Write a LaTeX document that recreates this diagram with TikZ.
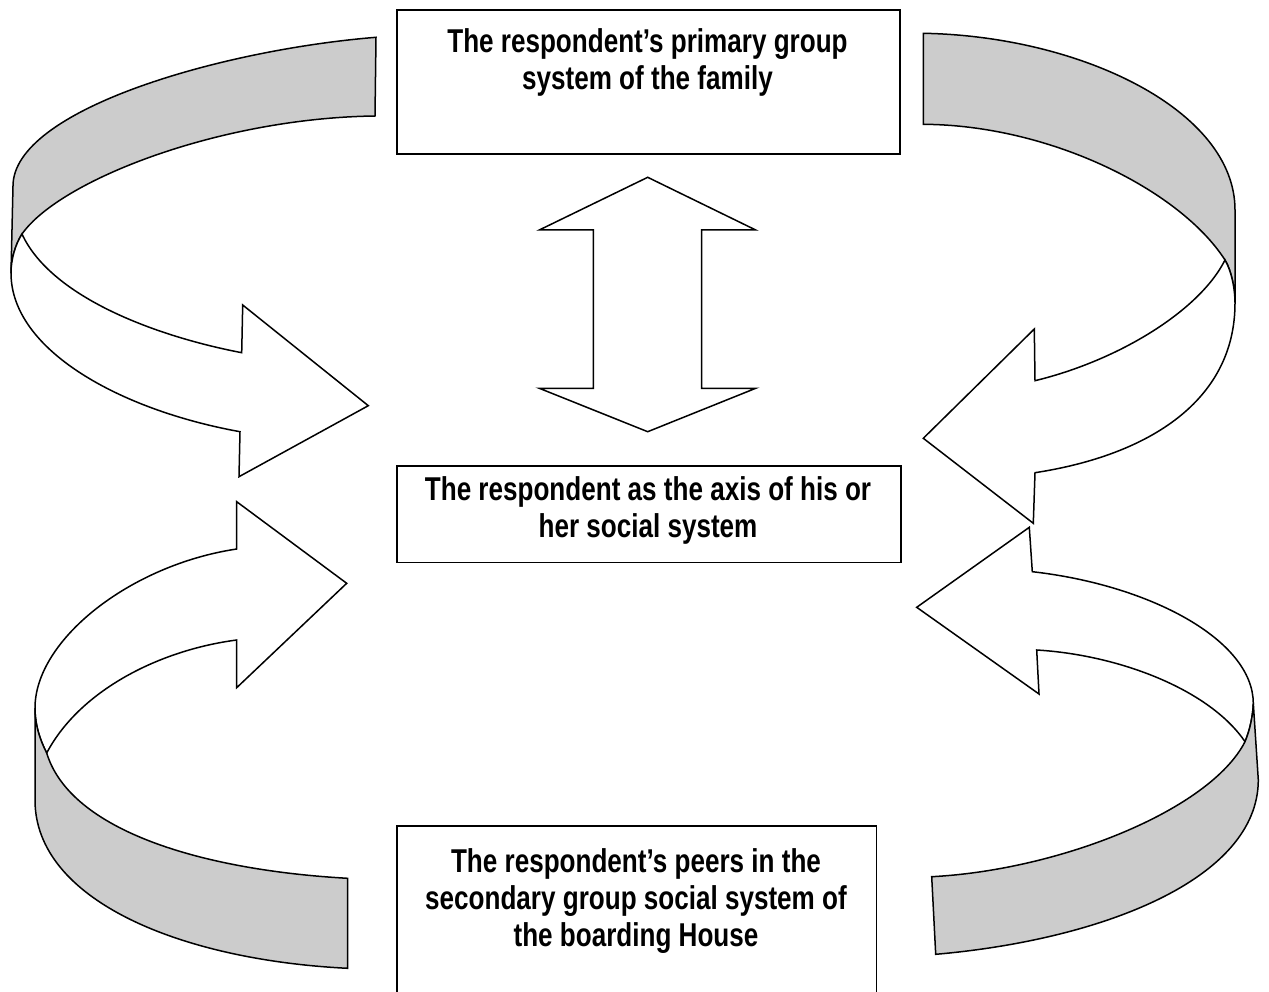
\documentclass[tikz,border=0pt]{standalone}
\usepackage{fontspec}
\setmainfont{Liberation Sans}[FakeStretch=0.79]
\definecolor{bandgray}{RGB}{204,204,204}
\begin{document}
\begin{tikzpicture}[x=1pt,y=-1pt,
  band/.style={draw=black, fill=bandgray, line width=1.5pt, line join=miter},
  face/.style={draw=black, fill=white, line width=1.5pt, line join=miter},
  sysbox/.style={draw=black, line width=1.5pt, inner sep=0pt, fill=none},
  lbl/.style={font=\bfseries\fontsize{33}{37}\selectfont, align=center, inner sep=0pt, anchor=north}]
\useasboundingbox (0,0) rectangle (1269,992);
\clip (0,0) rectangle (1269,992);

% boxes
\node[sysbox, minimum width=503.3pt, minimum height=144pt, anchor=north west] (family) at (396,9.3) {};
\node[sysbox, minimum width=504pt, minimum height=96.7pt, anchor=north west] (self) at (396,465) {};
\node[sysbox, minimum width=479.7pt, minimum height=200pt, anchor=north west] (peers) at (396,825) {};

\node[lbl] (familytext) at (647.5,28.5) {The respondent’s primary group\\system of the family};
\node[lbl] (selftext) at (648,476.7) {The respondent as the axis of his or\\her social system};
\node[lbl] (peerstext) at (636,848.5) {The respondent’s peers in the\\secondary group social system of\\the boarding House};

% double arrow between family and self
\draw[face] (647.7,177.3) -- (755.7,230) -- (701.7,230) -- (701.7,388.3) -- (755.7,388.3)
  -- (647.7,431.7) -- (539.3,388.3) -- (593.3,388.3) -- (593.3,230) -- (539.3,230) -- cycle;

% top-left curved arrow
\draw[band] (376,37.3) .. controls (220,50) and (13,110) .. (13,186) -- (11,273)
  .. controls (11,260) and (15,245) .. (22,234)
  .. controls (60,180) and (220,118) .. (375,116) -- cycle;
\draw[face] (11,273) .. controls (11,350) and (120,410) .. (240,431.7) -- (239,476.7)
  -- (368.3,405.7) -- (242.7,305) -- (241.7,352.7)
  .. controls (150,335) and (50,295) .. (22,234)
  .. controls (15,245) and (11,260) .. (11,273) -- cycle;

% top-right curved arrow
\draw[band] (923.3,33.3) .. controls (1080,36) and (1235,110) .. (1235,210) -- (1235,303)
  .. controls (1235,290) and (1232,272) .. (1225,260)
  .. controls (1180,190) and (1050,125) .. (923.3,124.3) -- cycle;
\draw[face] (1235,303) .. controls (1235,400) and (1150,455) .. (1035,472.7) -- (1033.3,523.3)
  -- (923.3,438.3) -- (1034.3,329) -- (1035,380.7)
  .. controls (1120,360) and (1200,310) .. (1225,260)
  .. controls (1232,272) and (1235,290) .. (1235,303) -- cycle;

% bottom-left curved arrow
\draw[face] (236.7,549) .. controls (130,565) and (35,640) .. (35,708)
  .. controls (35,725) and (40,740) .. (46.7,753)
  .. controls (80,690) and (160,650) .. (236.7,640) -- (236.7,687.7)
  -- (346.7,583.3) -- (236.7,501.7) -- cycle;
\draw[band] (35,708) -- (35,800) .. controls (35,900) and (180,960) .. (347.7,968.3)
  -- (347.7,878.3) .. controls (200,870) and (70,830) .. (46.7,753)
  .. controls (40,740) and (35,725) .. (35,708) -- cycle;

% bottom-right curved arrow
\draw[face] (1032.3,571.7) .. controls (1150,585) and (1253,640) .. (1253.3,703.3)
  .. controls (1253,715) and (1250,730) .. (1245,741.7)
  .. controls (1210,690) and (1120,655) .. (1036.7,650) -- (1039,694)
  -- (916.7,607.3) -- (1029.3,527.3) -- cycle;
\draw[band] (1253.3,703.3) -- (1258.3,780) .. controls (1258,880) and (1100,940) .. (935.7,954.3)
  -- (931.7,876.7) .. controls (1060,870) and (1210,810) .. (1245,741.7)
  .. controls (1250,730) and (1253,715) .. (1253.3,703.3) -- cycle;
\end{tikzpicture}
\end{document}
